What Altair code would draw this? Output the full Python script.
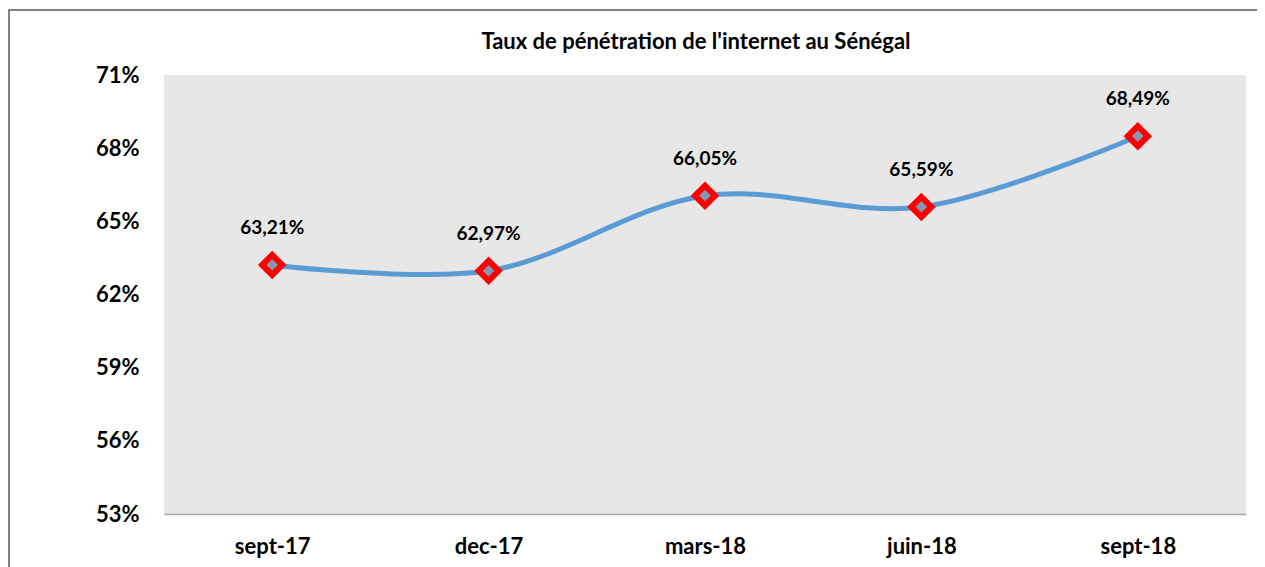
import altair as alt
import pandas as pd

periods = ["sept-17", "dec-17", "mars-18", "juin-18", "sept-18"]
rates = [63.21, 62.97, 66.05, 65.59, 68.49]
y_ticks = [53, 56, 59, 62, 65, 68, 71]
title_text = "Taux de pénétration de l'internet au Sénégal"

df = pd.DataFrame({
    "periode": periods,
    "taux": rates,
    "label": [f"{v:.2f}".replace(".", ",") + "%" for v in rates],
})

FONT = "Lato"

x = alt.X("periode:N", sort=periods, title=None,
          scale=alt.Scale(type="point", padding=0.5),
          axis=alt.Axis(labelFont=FONT, labelFontSize=22, labelFontWeight="bold",
                        labelColor="#000000", labelAngle=0, labelPadding=22,
                        ticks=False, domain=True, domainColor="#A6A6A6",
                        domainWidth=1.5, grid=False))
y = alt.Y("taux:Q", title=None,
          scale=alt.Scale(domain=[53, 71], nice=False, zero=False),
          axis=alt.Axis(values=y_ticks, labelExpr="datum.value + '%'",
                        labelFont=FONT, labelFontSize=22, labelFontWeight="bold",
                        labelColor="#000000", labelPadding=25, ticks=False,
                        domain=False, grid=False))

base = alt.Chart(df)
one = base.transform_filter("datum.periode == 'sept-17'")

border = one.mark_rect(fill=None, stroke="#595959", strokeWidth=1.5, clip=False).encode(
    x=alt.value(-155), x2=alt.value(1094), y=alt.value(-65), y2=alt.value(560)
)

title = one.mark_text(font=FONT, fontSize=22, fontWeight="bold", color="#000000",
                      align="center", baseline="middle").encode(
    x=alt.value(532), y=alt.value(-33), text=alt.value(title_text)
)

line = base.mark_line(interpolate="catmull-rom", color="#5B9BD5", strokeWidth=5).encode(x=x, y=y)

points = base.mark_point(shape="diamond", filled=True, fill="#8497B0", stroke="#FF0000",
                         strokeWidth=6, size=400, opacity=1).encode(x=x, y=y)

labels = base.mark_text(font=FONT, fontSize=19, fontWeight="bold", color="#000000",
                        dy=-37).encode(x=x, y=y, text="label:N")

chart = alt.layer(border, title, line, points, labels).properties(
    width=1082, height=439,
    background="#FFFFFF",
    autosize=alt.AutoSizeParams(type="none"),
    padding={"left": 156, "top": 67, "right": 11, "bottom": 60},
).configure_view(fill="#E7E7E7", stroke=None)

chart.save("out.html", embed_options={"renderer": "svg", "actions": False})
